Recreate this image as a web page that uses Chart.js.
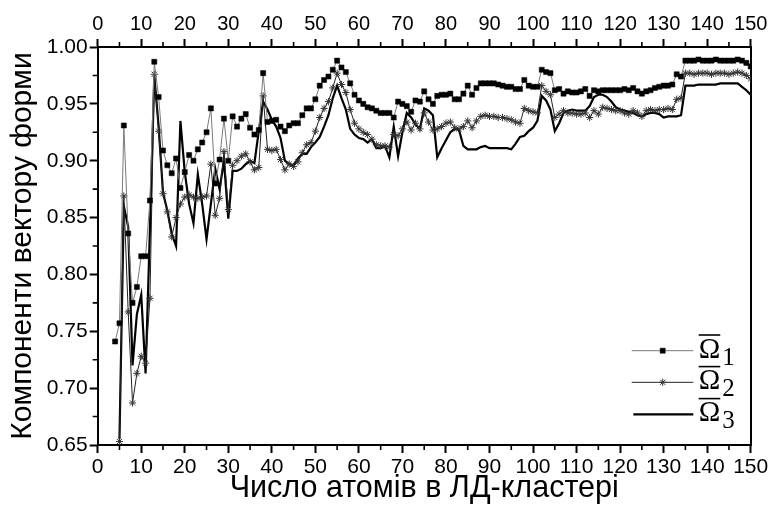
<!DOCTYPE html>
<html><head><meta charset="utf-8">
<script src="https://cdn.jsdelivr.net/npm/chart.js@4.4.1/dist/chart.umd.min.js"></script>
<style>html,body{margin:0;padding:0;background:#fff}#wrap{width:771px;height:508px}</style>
</head><body><div id="wrap"><canvas id="c" width="771" height="508"></canvas></div>
<script>
// Number of atoms in the LD cluster (x categories)
const atoms = [
  4,5,6,7,8,9,10,11,12,13,
  14,15,16,17,18,19,20,21,22,23,
  24,25,26,27,28,29,30,31,32,33,
  34,35,36,37,38,39,40,41,42,43,
  44,45,46,47,48,49,50,51,52,53,
  54,55,56,57,58,59,60,61,62,63,
  64,65,66,67,68,69,70,71,72,73,
  74,75,76,77,78,79,80,81,82,83,
  84,85,86,87,88,89,90,91,92,93,
  94,95,96,97,98,99,100,101,102,103,
  104,105,106,107,108,109,110,111,112,113,
  114,115,116,117,118,119,120,121,122,123,
  124,125,126,127,128,129,130,131,132,133,
  134,135,136,137,138,139,140,141,142,143,
  144,145,146,147,148,149,150
];
const omega1 = [
  0.741,0.757,0.931,0.836,0.775,0.789,0.816,0.816,0.865,0.987,
  0.956,0.909,0.896,0.889,0.902,0.876,0.890,0.905,0.900,0.910,
  0.916,0.925,0.946,0.880,0.901,0.937,0.900,0.939,0.930,0.937,
  0.941,0.929,0.923,0.927,0.977,0.934,0.935,0.936,0.930,0.926,
  0.931,0.933,0.933,0.940,0.946,0.946,0.954,0.966,0.971,0.974,
  0.980,0.988,0.982,0.978,0.968,0.958,0.953,0.950,0.947,0.946,
  0.944,0.942,0.942,0.942,0.938,0.952,0.950,0.948,0.943,0.953,
  0.952,0.961,0.954,0.950,0.957,0.958,0.958,0.959,0.954,0.954,
  0.959,0.966,0.958,0.964,0.968,0.968,0.968,0.968,0.967,0.966,
  0.965,0.965,0.963,0.963,0.971,0.966,0.965,0.965,0.980,0.978,
  0.977,0.962,0.963,0.959,0.961,0.960,0.960,0.961,0.963,0.957,
  0.962,0.961,0.962,0.962,0.962,0.962,0.962,0.963,0.962,0.964,
  0.961,0.959,0.961,0.962,0.964,0.965,0.966,0.966,0.967,0.976,
  0.974,0.988,0.988,0.988,0.989,0.988,0.988,0.988,0.989,0.988,
  0.988,0.988,0.988,0.989,0.988,0.986,0.983
];
const omega2 = [
  null,0.653,0.869,0.767,0.687,0.713,0.728,0.722,0.779,0.976,
  0.926,0.871,0.855,0.833,0.850,0.862,0.868,0.870,0.868,0.867,
  0.868,0.869,0.897,0.852,0.867,0.908,0.857,0.896,0.900,0.904,
  0.906,0.899,0.892,0.894,0.957,0.910,0.909,0.910,0.901,0.892,
  0.897,0.895,0.899,0.907,0.914,0.916,0.926,0.938,0.946,0.952,
  0.964,0.977,0.967,0.960,0.945,0.933,0.928,0.925,0.923,0.919,
  0.914,0.913,0.913,0.912,0.923,0.922,0.928,0.934,0.927,0.933,
  0.928,0.942,0.934,0.927,0.928,0.930,0.933,0.934,0.929,0.928,
  0.930,0.935,0.929,0.935,0.939,0.940,0.939,0.939,0.938,0.938,
  0.937,0.936,0.934,0.933,0.946,0.944,0.943,0.942,0.966,0.961,
  0.958,0.938,0.941,0.944,0.942,0.942,0.941,0.941,0.942,0.938,
  0.944,0.941,0.947,0.946,0.945,0.944,0.944,0.942,0.941,0.944,
  0.942,0.939,0.944,0.945,0.944,0.945,0.945,0.946,0.945,0.954,
  0.955,0.977,0.977,0.976,0.977,0.977,0.977,0.976,0.977,0.977,
  0.977,0.976,0.977,0.978,0.977,0.975,0.972
];
const omega3 = [
  null,0.655,0.860,0.842,0.720,0.765,0.782,0.713,0.840,0.975,
  0.930,0.872,0.856,0.836,0.825,0.935,0.890,0.862,0.845,0.888,
  0.862,0.831,0.862,0.893,0.875,0.900,0.849,0.891,0.891,0.893,
  0.897,0.900,0.898,0.926,0.952,0.945,0.936,0.930,0.920,0.900,
  0.897,0.896,0.902,0.906,0.906,0.912,0.916,0.921,0.930,0.940,
  0.955,0.966,0.955,0.945,0.928,0.923,0.920,0.919,0.916,0.919,
  0.911,0.911,0.913,0.903,0.930,0.904,0.925,0.942,0.938,0.932,
  0.928,0.946,0.944,0.940,0.903,0.911,0.918,0.925,0.928,0.927,
  0.913,0.910,0.910,0.910,0.912,0.913,0.911,0.911,0.911,0.911,
  0.911,0.910,0.915,0.921,0.922,0.926,0.929,0.935,0.957,0.953,
  0.945,0.926,0.933,0.942,0.944,0.945,0.944,0.944,0.944,0.948,
  0.956,0.958,0.958,0.956,0.952,0.947,0.945,0.944,0.943,0.942,
  0.940,0.939,0.941,0.942,0.942,0.941,0.938,0.939,0.939,0.939,
  0.940,0.966,0.966,0.966,0.967,0.967,0.967,0.967,0.967,0.968,
  0.968,0.968,0.968,0.968,0.965,0.962,0.958
];
const xTicks = [0,10,20,30,40,50,60,70,80,90,100,110,120,130,140,150];
const xMinorTicks = [5,15,25,35,45,55,65,75,85,95,105,115,125,135,145];
const yTicks = [0.65,0.70,0.75,0.80,0.85,0.90,0.95,1.00];
const yMinorTicks = [0.675,0.725,0.775,0.825,0.875,0.925,0.975];
const seriesNames = ['Ω1','Ω2','Ω3'];
const legendSymbol = 'Ω';
const legendSubs = ['1','2','3'];
const xTitle = 'Число атомів в ЛД-кластері';
const yTitle = 'Компоненти вектору форми';

const SANS = '"Liberation Sans", Arial, sans-serif';
const SERIF = '"Liberation Serif", "Times New Roman", serif';
Chart.defaults.font.family = SANS;
Chart.defaults.color = '#000';

function pts(arr){ return atoms.map((n,i)=>({x:n, y:arr[i]})); }
function noPad(s){ s.paddingLeft = 0; s.paddingRight = 0; s.paddingTop = 0; s.paddingBottom = 0; }

const gridCfg = {drawOnChartArea:false, drawTicks:true, tickLength:8, tickWidth:2, tickColor:'#000'};
const borderCfg = {display:true, color:'#000', width:2};

const minorTicks = {
  id:'minorTicks',
  afterDraw(chart){
    const {ctx, chartArea:ca, scales} = chart;
    ctx.save();
    ctx.strokeStyle = '#000'; ctx.lineWidth = 1.6;
    ctx.beginPath();
    xMinorTicks.forEach(v=>{
      const px = scales.x.getPixelForValue(v);
      ctx.moveTo(px, ca.bottom); ctx.lineTo(px, ca.bottom+5);
      ctx.moveTo(px, ca.top); ctx.lineTo(px, ca.top-5);
    });
    yMinorTicks.forEach(v=>{
      const py = scales.y.getPixelForValue(v);
      ctx.moveTo(ca.left, py); ctx.lineTo(ca.left-5, py);
    });
    ctx.stroke();
    ctx.restore();
  }
};

const omegaLegend = {
  id:'omegaLegend',
  afterDraw(chart){
    const {ctx, chartArea:ca} = chart;
    const x0 = ca.right-119, x1 = ca.right-57.4, mx = ca.right-88, tx = ca.right-52;
    const rowsY = [ca.bottom-94.3, ca.bottom-62.7, ca.bottom-30.7];
    ctx.save();
    chart.data.datasets.forEach((ds,i)=>{
      const y = rowsY[i];
      ctx.strokeStyle = ds.borderColor; ctx.lineWidth = ds.borderWidth;
      ctx.beginPath(); ctx.moveTo(i===2? x0+1.6 : x0, y); ctx.lineTo(x1, y); ctx.stroke();
      if (ds.pointRadius > 0) {
        const opts = {pointStyle: ds.pointStyle, radius: ds.pointRadius, borderWidth: ds.pointBorderWidth || 1, rotation:0};
        ctx.fillStyle = ds.pointBackgroundColor; ctx.strokeStyle = ds.pointBorderColor;
        ctx.lineWidth = opts.borderWidth;
        Chart.helpers.drawPoint(ctx, opts, mx, y);
      }
      ctx.fillStyle = '#000';
      ctx.font = '29px ' + SERIF;
      ctx.textBaseline = 'alphabetic'; ctx.textAlign = 'left';
      const w = ctx.measureText(legendSymbol).width;
      ctx.fillText(legendSymbol, tx, y+7);
      ctx.lineWidth = 1.6; ctx.strokeStyle = '#000';
      ctx.beginPath(); ctx.moveTo(tx, y-15.7); ctx.lineTo(tx+w, y-15.7); ctx.stroke();
      ctx.font = '25px ' + SERIF;
      ctx.fillText(legendSubs[i], tx+w+2, y+14);
    });
    ctx.restore();
  }
};

new Chart(document.getElementById('c'), {
  type:'line',
  data:{
    datasets:[
      {label:seriesNames[0], data:pts(omega1), borderColor:'#7a7a7a', borderWidth:1,
       pointStyle:'rect', pointRadius:3.6, pointBackgroundColor:'#000', pointBorderColor:'#000', pointBorderWidth:0.5,
       order:0},
      {label:seriesNames[1], data:pts(omega2), borderColor:'#222', borderWidth:1,
       pointStyle:'star', pointRadius:3.6, pointBackgroundColor:'#333', pointBorderColor:'#333', pointBorderWidth:1,
       order:1},
      {label:seriesNames[2], data:pts(omega3), borderColor:'#000', borderWidth:2.2,
       pointRadius:0, pointBackgroundColor:'#000', pointBorderColor:'#000', order:2}
    ]
  },
  options:{
    responsive:false, animation:false, devicePixelRatio:1,
    layout:{padding:0},
    plugins:{legend:{display:false}, tooltip:{enabled:false}},
    scales:{
      x:{type:'linear', position:'bottom', min:0, max:150,
         afterBuildTicks:s=>{ s.ticks = xTicks.map(v=>({value:v})); },
         afterFit:s=>{ s.height = 63; noPad(s); },
         ticks:{font:{family:SANS, size:21}, color:'#000', padding:2, maxRotation:0, autoSkip:false},
         grid:gridCfg, border:borderCfg,
         title:{display:true, text:xTitle, font:{family:SANS, size:30.5}, color:'#000', padding:{top:0,bottom:1}}},
      x2:{type:'linear', position:'top', min:0, max:150,
         afterBuildTicks:s=>{ s.ticks = xTicks.map(v=>({value:v})); },
         afterFit:s=>{ s.height = 47; noPad(s); },
         ticks:{font:{family:SANS, size:20}, color:'#000', padding:3, maxRotation:0, autoSkip:false},
         grid:gridCfg, border:borderCfg},
      y:{type:'linear', position:'left', min:0.65, max:1.0,
         afterBuildTicks:s=>{ s.ticks = yTicks.map(v=>({value:v})); },
         afterFit:s=>{ s.width = 97.7; noPad(s); },
         ticks:{font:{family:SANS, size:21}, color:'#000', padding:2, autoSkip:false, callback:v=>Number(v).toFixed(2)},
         grid:gridCfg, border:borderCfg,
         title:{display:true, text:yTitle, font:{family:SANS, size:30}, color:'#000', padding:{top:5,bottom:0}}},
      y2:{type:'linear', position:'right', min:0.65, max:1.0,
         afterFit:s=>{ s.width = 20.3; noPad(s); },
         ticks:{display:false},
         grid:{drawOnChartArea:false, drawTicks:false}, border:borderCfg}
    }
  },
  plugins:[minorTicks, omegaLegend]
});
</script>
</body></html>
